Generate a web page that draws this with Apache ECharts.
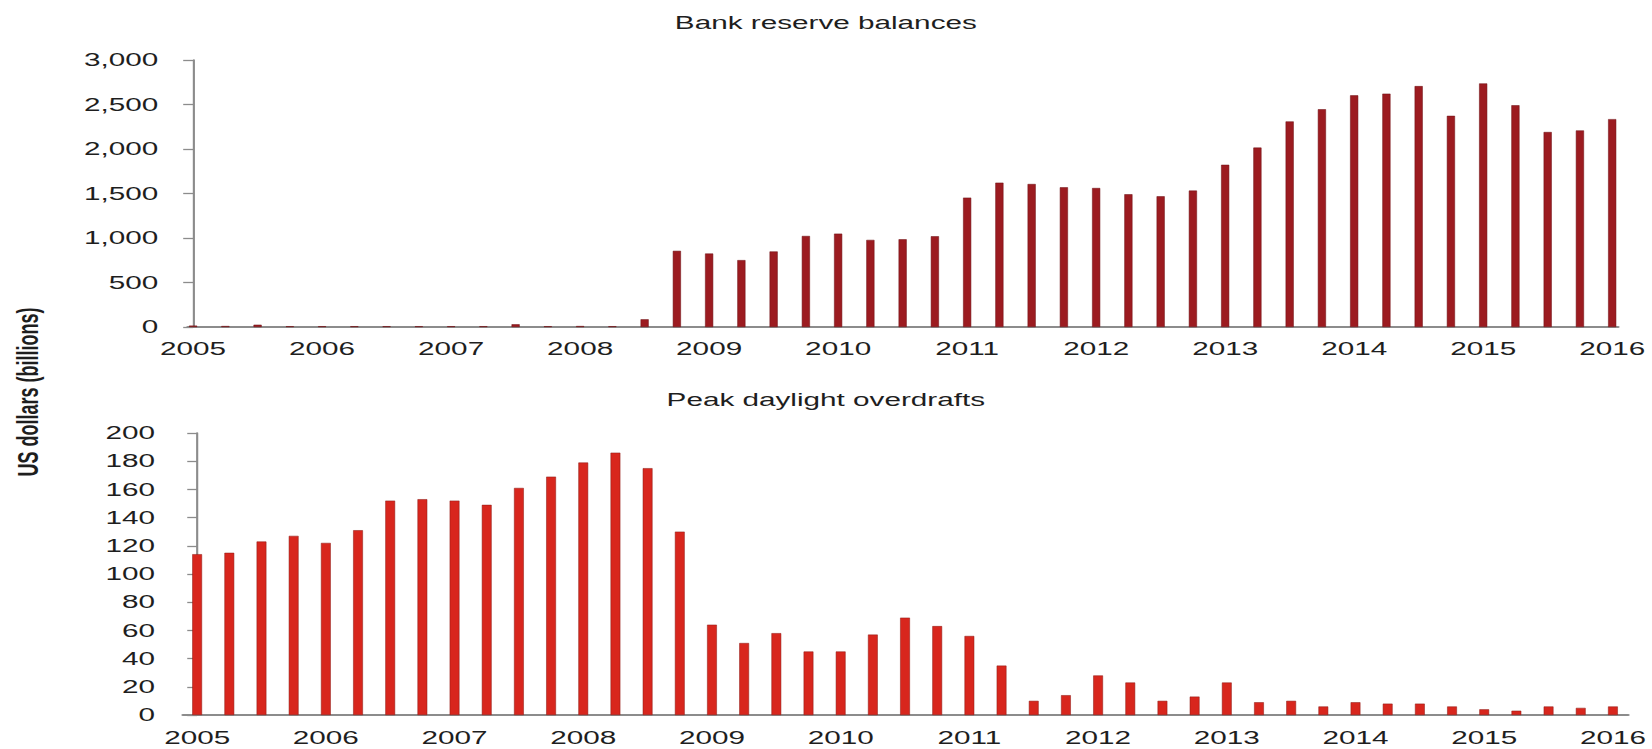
<!DOCTYPE html>
<html>
<head>
<meta charset="utf-8">
<script src="https://cdn.jsdelivr.net/npm/echarts@6/dist/echarts.min.js"></script>
<style>
  html, body { margin: 0; padding: 0; background: #fff; overflow: hidden; }
  /* the source picture is stretched sideways, so the chart is drawn narrow and widened */
  #chart { width: 1001px; height: 749px; transform: scaleX(1.65); transform-origin: 0 0; }
</style>
</head>
<body>
<div id="chart"></div>
<script>
const years = ['2005', '2006', '2007', '2008', '2009', '2010', '2011', '2012', '2013', '2014', '2015', '2016'];

// quarterly, 2005 Q1 .. 2016 Q1
const reserveBalances = [
  15, 10, 25, 8, 8, 8, 8, 8, 8, 8, 30, 8, 10, 8, 86, 855,
  825, 751, 848, 1022, 1048, 978, 985, 1019, 1453, 1621, 1606, 1569, 1561, 1491,
  1468, 1532, 1822, 2015, 2309, 2446, 2602, 2621, 2706, 2372, 2736, 2491, 2190, 2208, 2335
];
const daylightOverdrafts = [
  114, 115, 123, 127, 122, 131, 152, 153, 152, 149, 161, 169, 179, 186, 175, 130,
  64, 51, 58, 45, 45, 57, 69, 63, 56, 35, 10, 14, 28, 23,
  10, 13, 23, 9, 10, 6, 9, 8, 8, 6, 4, 3, 6, 5, 6
];

const font = "'Liberation Sans', Arial, sans-serif";
const axisGrey = '#8c8c8c';
const yearTicks = years.map((y, k) => k * 4);

function xAxisFor(gridIndex, min, max, margin) {
  return {
    type: 'value', gridIndex, min, max,
    axisLine: { lineStyle: { color: axisGrey, width: 2 } },
    axisTick: { show: false },
    splitLine: { show: false },
    axisLabel: {
      customValues: yearTicks,
      formatter: v => years[Math.round(v / 4)],
      color: '#1e1e1e', fontFamily: font, fontSize: 18, margin
    }
  };
}

function yAxisFor(gridIndex, max, interval, margin, withComma) {
  return {
    type: 'value', gridIndex, min: 0, max, interval,
    axisLine: { show: true, lineStyle: { color: axisGrey, width: 1.3 } },
    axisTick: { show: true, length: 6, lineStyle: { color: axisGrey, width: 1.3 } },
    splitLine: { show: false },
    axisLabel: {
      formatter: v => withComma ? v.toLocaleString('en-US') : String(v),
      color: '#1e1e1e', fontFamily: font, fontSize: 18, margin
    }
  };
}

const chart = echarts.init(document.getElementById('chart'), null, { renderer: 'svg' });

chart.setOption({
  animation: false,
  backgroundColor: '#fff',
  title: [
    { text: 'Bank reserve balances', left: 'center', top: 14, padding: 0,
      textStyle: { fontFamily: font, fontSize: 18, fontWeight: 'normal', color: '#1e1e1e' } },
    { text: 'Peak daylight overdrafts', left: 'center', top: 391, padding: 0,
      textStyle: { fontFamily: font, fontSize: 18, fontWeight: 'normal', color: '#1e1e1e' } }
  ],
  graphic: [{
    type: 'text',
    x: 17, y: 392,
    rotation: Math.PI / 2,
    style: {
      text: 'US dollars (billions)',
      fontFamily: font, fontSize: 18, fontWeight: 'bold',
      fill: '#1e1e1e', align: 'center', verticalAlign: 'middle'
    }
  }],
  grid: [
    { left: 113.9, right: 20.4, top: 60, height: 267 },
    { left: 110.9, right: 14.3, top: 433, height: 282 }
  ],
  xAxis: [
    xAxisFor(0, -0.16, 44.18, 13),
    xAxisFor(1, -0.44, 44.47, 14)
  ],
  yAxis: [
    yAxisFor(0, 3000, 500, 18, true),
    yAxisFor(1, 200, 20, 17, false)
  ],
  series: [
    {
      name: 'Bank reserve balances', type: 'bar', xAxisIndex: 0, yAxisIndex: 0,
      barWidth: 5,
      itemStyle: { color: '#9c1b20', borderColor: '#6e1114', borderWidth: 0.4 },
      data: reserveBalances.map((v, i) => [i, v])
    },
    {
      name: 'Peak daylight overdrafts', type: 'bar', xAxisIndex: 1, yAxisIndex: 1,
      barWidth: 6,
      itemStyle: { color: '#d8261d', borderColor: '#8e1a14', borderWidth: 0.4 },
      data: daylightOverdrafts.map((v, i) => [i, v])
    }
  ]
});
</script>
</body>
</html>
